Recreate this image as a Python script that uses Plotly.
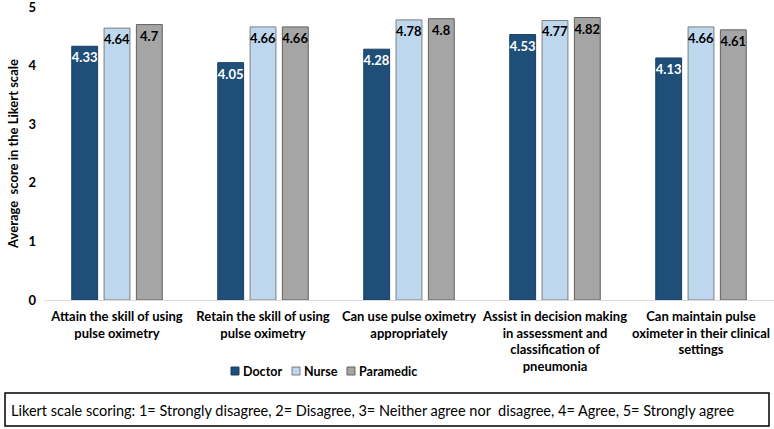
import plotly.graph_objects as go

categories = [
    "Attain the skill of using<br>pulse oximetry",
    "Retain the skill of using<br>pulse oximetry",
    "Can use pulse oximetry<br>appropriately",
    "Assist in decision making<br>in assessment and<br>classification of<br>pneumonia",
    "Can maintain pulse<br>oximeter in their clinical<br>settings",
]
series_names = ["Doctor", "Nurse", "Paramedic"]
doctor = [4.33, 4.05, 4.28, 4.53, 4.13]
nurse = [4.64, 4.66, 4.78, 4.77, 4.66]
paramedic = [4.7, 4.66, 4.8, 4.82, 4.61]

FONT = "Lato"
W, H = 774, 429
L, R, T, B = 44, 0, 7, 129
pw, ph = W - L - R, H - T - B

def px(x):
    return (x - L) / pw

def py(y):
    return (H - B - y) / ph

fig = go.Figure()
styles = [
    ("#1F4E79", "#1A3F63", "white"),
    ("#BDD7EE", "#7F7F7F", "black"),
    ("#A5A5A5", "#606060", "black"),
]
for name, vals, (col, line, tcol) in zip(series_names, [doctor, nurse, paramedic], styles):
    fig.add_trace(go.Bar(
        name=name, x=categories, y=vals,
        marker=dict(color=col, line=dict(color=line, width=1)),
        text=[f"<b>{v:g}</b>" for v in vals], textposition="inside",
        insidetextanchor="end", constraintext="none",
        textfont=dict(family=FONT, size=13, color=tcol),
        textangle=0, showlegend=False,
    ))

fig.update_layout(
    width=W, height=H,
    margin=dict(l=L, r=R, t=T, b=B, autoexpand=False),
    barmode="group", bargap=0.336, bargroupgap=0.2,
    plot_bgcolor="white", paper_bgcolor="white",
    font=dict(family=FONT, size=13, color="black"),
    showlegend=False,
    xaxis=dict(
        showline=True, linecolor="#D9D9D9", linewidth=1,
        tickfont=dict(family=FONT, size=13, color="black", weight="bold"),
        ticks="", showgrid=False, automargin=False, ticklabelstandoff=4,
    ),
    yaxis=dict(
        range=[0, 5], dtick=1, showgrid=False, zeroline=False,
        ticklabeloverflow="allow", automargin=False, ticklabelstandoff=7,
        tickfont=dict(family=FONT, size=13, color="black", weight="bold"),
        title=dict(text="Average  score in the Likert scale",
                   font=dict(family=FONT, size=13, color="black", weight="bold"),
                   standoff=6),
    ),
)

# manual legend (compact like the reference)
leg_x = [231, 292, 347]
leg_y = 371
for name, (col, line, _), x0 in zip(series_names, styles, leg_x):
    fig.add_shape(type="rect", xref="paper", yref="paper",
                  x0=px(x0), x1=px(x0 + 8), y0=py(leg_y + 4), y1=py(leg_y - 4),
                  line=dict(color=line, width=1), fillcolor=col)
    fig.add_annotation(xref="paper", yref="paper", x=px(x0 + 10), y=py(leg_y),
                       xanchor="left", yanchor="middle", showarrow=False,
                       text=f"<b>{name}</b>",
                       font=dict(family=FONT, size=12.5, color="black"))

fig.add_shape(type="rect", xref="paper", yref="paper",
              x0=px(5), x1=px(769), y0=py(393), y1=py(426),
              line=dict(color="black", width=1.5), fillcolor="rgba(0,0,0,0)")
fig.add_annotation(xref="paper", yref="paper", x=px(9), y=py(410),
                   xanchor="left", yanchor="middle", showarrow=False,
                   text="Likert scale scoring: 1= Strongly disagree, 2= Disagree, 3= Neither agree nor  disagree, 4= Agree, 5= Strongly agree",
                   font=dict(family=FONT, size=14.5, color="black"))

fig.write_html("out.html", config={"displayModeBar": False},
               post_script="document.body.style.margin='0';document.body.style.overflow='hidden';")
